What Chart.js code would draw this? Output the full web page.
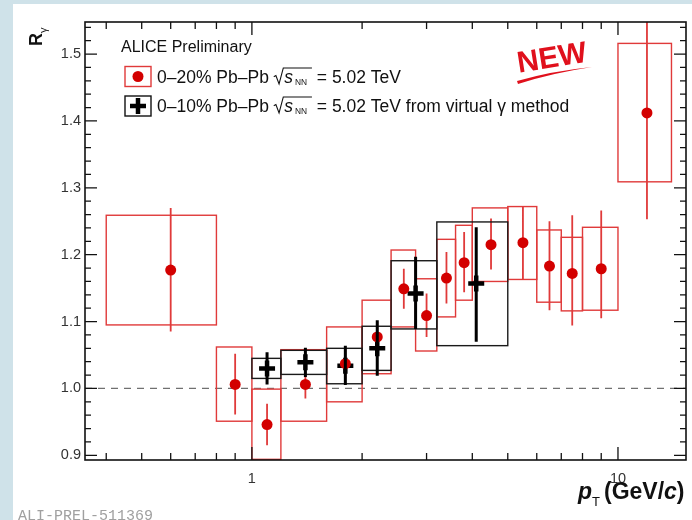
<!DOCTYPE html>
<html>
<head>
<meta charset="utf-8">
<script src="https://cdn.jsdelivr.net/npm/chart.js@4.4.1/dist/chart.umd.min.js"></script>
<style>
  html, body { margin: 0; padding: 0; background: #cfe2e9; }
  #wrap { position: relative; width: 692px; height: 520px; }
</style>
</head>
<body>
<div id="wrap"><canvas id="ry" width="692" height="520"></canvas></div>
<script>
// R_gamma vs pT

// 0-20% Pb-Pb, real photons
const redPt     = [0.6, 0.9, 1.1, 1.4, 1.8, 2.2, 2.6, 3.0, 3.4, 3.8, 4.5, 5.5, 6.5, 7.5, 9.0, 12];
const redRy     = [1.177, 1.006, 0.946, 1.006, 1.037, 1.077, 1.149, 1.109, 1.165, 1.188, 1.215, 1.218, 1.183, 1.172, 1.179, 1.412];
const redStatLo = [1.085, 0.961, 0.915, 0.985, 1.015, 1.050, 1.119, 1.077, 1.127, 1.144, 1.178, 1.163, 1.117, 1.094, 1.105, 1.253];
const redStatHi = [1.270, 1.052, 0.977, 1.025, 1.060, 1.100, 1.179, 1.142, 1.204, 1.234, 1.254, 1.272, 1.250, 1.259, 1.266, 1.600];
const redBinLo  = [0.4, 0.8, 1.0, 1.2, 1.6, 2.0, 2.4, 2.8, 3.2, 3.6, 4.0, 5.0, 6.0, 7.0, 8.0, 10];
const redBinHi  = [0.8, 1.0, 1.2, 1.6, 2.0, 2.4, 2.8, 3.2, 3.6, 4.0, 5.0, 6.0, 7.0, 8.0, 10, 14];
const redSysLo  = [1.095, 0.951, 0.894, 0.951, 0.980, 1.022, 1.092, 1.056, 1.107, 1.132, 1.160, 1.163, 1.129, 1.116, 1.117, 1.309];
const redSysHi  = [1.259, 1.062, 0.999, 1.058, 1.092, 1.132, 1.207, 1.164, 1.223, 1.244, 1.270, 1.272, 1.237, 1.226, 1.241, 1.516];

// 0-10% Pb-Pb, virtual photon method
const blkPt     = [1.1, 1.4, 1.8, 2.2, 2.8, 4.1];
const blkRy     = [1.030, 1.039, 1.034, 1.060, 1.142, 1.157];
const blkStatLo = [1.006, 1.017, 1.005, 1.019, 1.089, 1.070];
const blkStatHi = [1.054, 1.061, 1.064, 1.102, 1.197, 1.241];
const blkBinLo  = [1.0, 1.2, 1.6, 2.0, 2.4, 3.2];
const blkBinHi  = [1.2, 1.6, 2.0, 2.4, 3.2, 5.0];
const blkSysLo  = [1.015, 1.021, 1.007, 1.027, 1.089, 1.064];
const blkSysHi  = [1.045, 1.057, 1.060, 1.093, 1.191, 1.249];

// axis ticks
const xTickLabels = [1, 10];
const xMinorTicks = [0.4, 0.5, 0.6, 0.7, 0.8, 0.9, 2, 3, 4, 5, 6, 7, 8, 9];
const yTickLabels = [0.9, 1.0, 1.1, 1.2, 1.3, 1.4, 1.5];

const FONT = '"Liberation Sans", Arial, Helvetica, sans-serif';
const RED = '#d30000';
const RED_LINE = '#e03a3a';

function drawBoxes(chart, binLo, binHi, sysLo, sysHi, color, width) {
    const ctx = chart.ctx, xs = chart.scales.x, ys = chart.scales.y;
    ctx.save();
    ctx.strokeStyle = color;
    ctx.lineWidth = width;
    for (let i = 0; i < binLo.length; i++) {
        const x0 = xs.getPixelForValue(binLo[i]);
        const x1 = xs.getPixelForValue(binHi[i]);
        const y0 = ys.getPixelForValue(sysHi[i]);
        const y1 = ys.getPixelForValue(sysLo[i]);
        ctx.strokeRect(x0, y0, x1 - x0, y1 - y0);
    }
    ctx.restore();
}

function drawErrors(chart, pt, lo, hi, color, width) {
    const ctx = chart.ctx, xs = chart.scales.x, ys = chart.scales.y;
    ctx.save();
    ctx.strokeStyle = color;
    ctx.lineWidth = width;
    ctx.beginPath();
    for (let i = 0; i < pt.length; i++) {
        const px = xs.getPixelForValue(pt[i]);
        ctx.moveTo(px, ys.getPixelForValue(lo[i]));
        ctx.lineTo(px, ys.getPixelForValue(hi[i]));
    }
    ctx.stroke();
    ctx.restore();
}

function clipArea(chart) {
    const a = chart.chartArea;
    chart.ctx.beginPath();
    chart.ctx.rect(a.left, a.top, a.right - a.left, a.bottom - a.top);
    chart.ctx.clip();
}

const bgPlugin = {
    id: 'bg',
    beforeDraw(chart) {
        const ctx = chart.ctx;
        ctx.save();
        ctx.fillStyle = '#cfe2e9';
        ctx.fillRect(0, 0, chart.width, chart.height);
        ctx.fillStyle = '#ffffff';
        ctx.fillRect(13, 4, chart.width - 13, chart.height - 4);
        ctx.restore();
    }
};

const markPlugin = {
    id: 'marks',
    beforeDatasetsDraw(chart) {
        const ctx = chart.ctx, ys = chart.scales.y, a = chart.chartArea;
        ctx.save();
        clipArea(chart);
        // reference line at 1
        ctx.strokeStyle = '#707070';
        ctx.lineWidth = 1.3;
        ctx.setLineDash([7, 6]);
        ctx.beginPath();
        const y1 = ys.getPixelForValue(1.0);
        ctx.moveTo(a.left, y1);
        ctx.lineTo(a.right, y1);
        ctx.stroke();
        ctx.setLineDash([]);
        drawBoxes(chart, redBinLo, redBinHi, redSysLo, redSysHi, RED_LINE, 1.4);
        drawErrors(chart, redPt, redStatLo, redStatHi, RED_LINE, 1.8);
        ctx.restore();
    },
    afterDatasetDraw(chart, args) {
        if (args.index !== 0) return;
        const ctx = chart.ctx;
        ctx.save();
        clipArea(chart);
        drawBoxes(chart, blkBinLo, blkBinHi, blkSysLo, blkSysHi, '#1a1a1a', 1.4);
        drawErrors(chart, blkPt, blkStatLo, blkStatHi, '#000', 3);
        ctx.restore();
    }
};

// ROOT-like frame with inward ticks on all four sides
const framePlugin = {
    id: 'frame',
    afterDraw(chart) {
        const ctx = chart.ctx, a = chart.chartArea, xs = chart.scales.x, ys = chart.scales.y;
        ctx.save();
        ctx.strokeStyle = '#111';
        ctx.lineWidth = 1.6;
        ctx.strokeRect(a.left, a.top, a.right - a.left, a.bottom - a.top);
        ctx.lineWidth = 1.3;
        ctx.beginPath();
        const xt = (v, len) => {
            const px = xs.getPixelForValue(v);
            ctx.moveTo(px, a.bottom); ctx.lineTo(px, a.bottom - len);
            ctx.moveTo(px, a.top); ctx.lineTo(px, a.top + len);
        };
        xMinorTicks.forEach(v => xt(v, 7));
        xTickLabels.forEach(v => xt(v, 13));
        const yt = (v, len) => {
            const py = ys.getPixelForValue(v);
            ctx.moveTo(a.left, py); ctx.lineTo(a.left + len, py);
            ctx.moveTo(a.right, py); ctx.lineTo(a.right - len, py);
        };
        for (let k = 45; k <= 77; k++) {
            const v = k * 0.02;
            if (v < ys.min || v > ys.max) continue;
            yt(v, k % 5 === 0 ? 12 : 6);
        }
        ctx.stroke();
        ctx.restore();
    }
};

function drawSqrtPiece(ctx, x, y, size) {
    // radical sign over s_NN
    const k = size / 16.5;
    ctx.save();
    ctx.lineWidth = 1.1;
    ctx.beginPath();
    ctx.moveTo(x, y - 6 * k);
    ctx.lineTo(x + 2 * k, y - 7 * k);
    ctx.lineTo(x + 5 * k, y + 1);
    ctx.lineTo(x + 9 * k, y - size * 0.86);
    ctx.lineTo(x + 36 * k, y - size * 0.86);
    ctx.stroke();
    ctx.font = 'italic ' + size + 'px ' + FONT;
    ctx.fillText('s', x + 10 * k, y);
    ctx.font = (size * 0.48) + 'px ' + FONT;
    ctx.fillText('NN', x + 20 * k, y + 2);
    ctx.restore();
    return x + 36 * k;
}

function drawLegendLine(ctx, x, y, pre, post) {
    const size = 17.5;
    ctx.font = size + 'px ' + FONT;
    ctx.fillText(pre, x, y);
    x += ctx.measureText(pre).width;
    x = drawSqrtPiece(ctx, x, y, size);
    ctx.font = size + 'px ' + FONT;
    ctx.fillText(post, x, y);
}

const textPlugin = {
    id: 'texts',
    afterDraw(chart) {
        const ctx = chart.ctx;
        ctx.save();
        ctx.fillStyle = '#111';
        ctx.strokeStyle = '#111';
        ctx.textBaseline = 'alphabetic';

        ctx.font = '16px ' + FONT;
        ctx.fillText('ALICE Preliminary', 121, 52);

        // legend markers
        ctx.lineWidth = 1.4;
        ctx.strokeStyle = RED_LINE;
        ctx.strokeRect(125, 66.5, 26, 20);
        ctx.fillStyle = RED;
        ctx.beginPath();
        ctx.arc(138, 76.5, 5.5, 0, Math.PI * 2);
        ctx.fill();
        ctx.strokeStyle = '#111';
        ctx.strokeRect(125, 96, 26, 20);
        ctx.lineWidth = 4.5;
        ctx.strokeStyle = '#000';
        ctx.beginPath();
        ctx.moveTo(130, 106); ctx.lineTo(146, 106);
        ctx.moveTo(138, 98); ctx.lineTo(138, 114);
        ctx.stroke();

        ctx.fillStyle = '#111';
        ctx.strokeStyle = '#111';
        drawLegendLine(ctx, 157, 83, '0\u201320% Pb\u2013Pb ', ' = 5.02 TeV');
        drawLegendLine(ctx, 157, 112, '0\u201310% Pb\u2013Pb ', ' = 5.02 TeV from virtual \u03b3 method');

        // y title
        ctx.save();
        ctx.translate(42, 46);
        ctx.rotate(-Math.PI / 2);
        ctx.font = 'bold 18px ' + FONT;
        ctx.fillText('R', 0, 0);
        ctx.font = '11px ' + FONT;
        ctx.fillText('\u03b3', 13, 5);
        ctx.restore();

        // x title
        let x = 578;
        const yb = 499;
        ctx.font = 'italic bold 23px ' + FONT;
        ctx.fillText('p', x, yb);
        x += ctx.measureText('p').width;
        ctx.font = '13px ' + FONT;
        ctx.fillText('T', x, yb + 7);
        x += ctx.measureText('T').width + 4;
        ctx.font = 'bold 23px ' + FONT;
        ctx.fillText('(GeV/', x, yb);
        x += ctx.measureText('(GeV/').width;
        ctx.font = 'italic bold 23px ' + FONT;
        ctx.fillText('c', x, yb);
        x += ctx.measureText('c').width;
        ctx.font = 'bold 23px ' + FONT;
        ctx.fillText(')', x, yb);

        // preliminary figure id
        ctx.font = '15px "Liberation Mono", "DejaVu Sans Mono", monospace';
        ctx.fillStyle = '#a0a0a0';
        ctx.fillText('ALI-PREL-511369', 18, 520);

        // NEW stamp
        ctx.save();
        ctx.translate(552, 59);
        ctx.rotate(-9 * Math.PI / 180);
        ctx.fillStyle = '#e0101c';
        ctx.font = 'bold 30px "Liberation Sans Narrow", ' + FONT;
        ctx.textAlign = 'center';
        ctx.textBaseline = 'middle';
        ctx.fillText('NEW', 0, 0);
        ctx.restore();
        ctx.fillStyle = '#e0101c';
        ctx.beginPath();
        ctx.moveTo(517, 81);
        ctx.quadraticCurveTo(552, 71, 592, 67);
        ctx.quadraticCurveTo(552, 73, 518, 84);
        ctx.closePath();
        ctx.fill();

        ctx.restore();
    }
};

const tickFont = { family: FONT, size: 14.5 };

new Chart(document.getElementById('ry'), {
    type: 'scatter',
    data: {
        datasets: [
            {
                label: '0-20% Pb-Pb',
                data: redPt.map((x, i) => ({ x: x, y: redRy[i] })),
                pointRadius: 5.5,
                pointHoverRadius: 5.5,
                backgroundColor: RED,
                borderWidth: 0
            },
            {
                label: '0-10% Pb-Pb virtual photon',
                data: blkPt.map((x, i) => ({ x: x, y: blkRy[i] })),
                pointStyle: 'cross',
                pointRadius: 8,
                pointHoverRadius: 8,
                borderColor: '#000',
                backgroundColor: '#000',
                borderWidth: 4.5
            }
        ]
    },
    options: {
        responsive: false,
        animation: false,
        events: [],
        layout: { autoPadding: false, padding: { left: 20, right: 6, top: 22, bottom: 0 } },
        plugins: {
            legend: { display: false },
            tooltip: { enabled: false }
        },
        scales: {
            x: {
                type: 'logarithmic',
                min: 0.35,
                max: 15.34,
                afterBuildTicks: s => { s.ticks = xTickLabels.map(v => ({ value: v })); },
                afterFit: s => { s.height = 60; },
                grid: { display: false, drawTicks: false },
                border: { display: false },
                ticks: {
                    padding: 10,
                    font: tickFont,
                    color: '#333',
                    maxRotation: 0,
                    autoSkip: false,
                    callback: v => String(v)
                }
            },
            y: {
                min: 0.893,
                max: 1.548,
                afterBuildTicks: s => { s.ticks = yTickLabels.map(v => ({ value: v })); },
                afterFit: s => { s.width = 65; },
                grid: { display: false, drawTicks: false },
                border: { display: false },
                ticks: {
                    padding: 4,
                    font: tickFont,
                    color: '#333',
                    autoSkip: false,
                    callback: v => Number(v).toFixed(1)
                }
            }
        }
    },
    plugins: [bgPlugin, markPlugin, framePlugin, textPlugin]
});
</script>
</body>
</html>
